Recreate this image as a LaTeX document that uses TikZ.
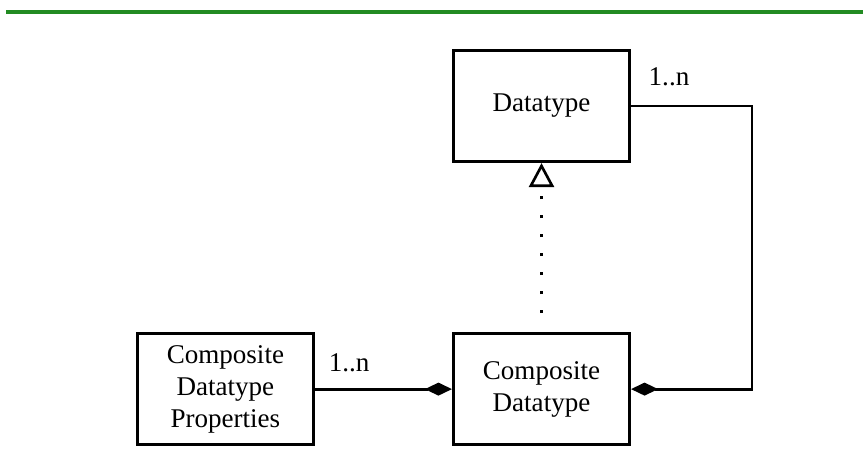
\documentclass[tikz,border=0pt]{standalone}
\usepackage{fontspec}
\setmainfont{Liberation Serif}
\usepackage{tikz}
\usetikzlibrary{arrows.meta,positioning,calc}
\definecolor{Rule}{HTML}{228B22}
\definecolor{Ink}{HTML}{000000}
\tikzset{
  every node/.append style={text=Ink},
  box/.style={draw=Ink, line width=1.8pt, fill=white, align=center,
              minimum width=3.52cm, minimum height=2.22cm, inner sep=1mm,
              font=\fontsize{15.4}{18.3}\selectfont},
  comp/.style={-{Diamond[length=5.4mm,width=2.6mm]}, line width=1.6pt, draw=Ink},
  real/.style={-{Triangle[open,length=4.8mm,width=5mm,line width=1.5pt]}, line width=1.8pt,
               dash pattern=on 1.6pt off 9.2pt, shorten <=3.8mm, draw=Ink},
  mult/.style={font=\fontsize{15.4}{18.3}\selectfont, inner sep=1pt},
}

\begin{document}
\begin{tikzpicture}[x=0.02cm, y=-0.02cm, node distance=2.74cm]
  \useasboundingbox (0,0) rectangle (863,474);
  \draw[Rule, line width=2.6pt] (6,12) -- (863,12);
  \node[box] (dt) at (541.5,106) {Datatype};
  \node[box, below=3.38cm of dt] (cd) {Composite\\Datatype};
  \node[box, left=of cd] (cdp) {Composite\\Datatype\\Properties};
  \coordinate (rail) at (752,106);
  \draw[real] (cd) -- (dt);
  \draw[comp] (cdp) -- (cd) node[mult, pos=0.25, above=2.8mm] {1..n};
  \draw[comp] (dt.east) -- (dt.east -| rail) |- (cd.east);
  \node[mult] (top) at (669,77) {1..n};
\end{tikzpicture}
\end{document}
